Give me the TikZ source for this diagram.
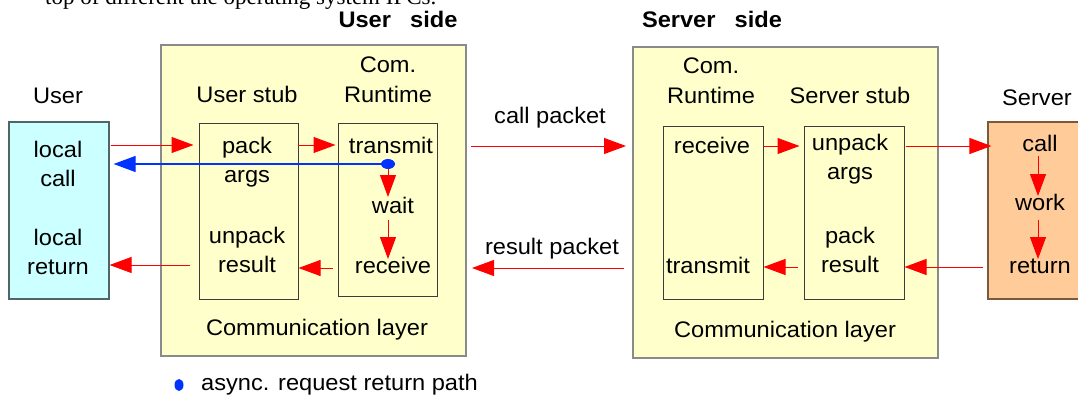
\documentclass[tikz,border=0pt]{standalone}
\usepackage{fontspec}
\setmainfont[FakeStretch=1.05]{Liberation Sans}
\newfontfamily\toptextfont{Liberation Serif}
\usetikzlibrary{arrows.meta,fit,shapes.geometric}
\definecolor{ylw}{HTML}{FFFFCC}
\definecolor{cyn}{HTML}{CCFFFF}
\definecolor{org}{HTML}{FFCC99}
\definecolor{boxgray}{HTML}{8A8A8A}
\definecolor{innergray}{HTML}{3C3C3C}
\definecolor{cynedge}{HTML}{4F6666}
\definecolor{orgedge}{HTML}{7A5A3C}
\definecolor{arrred}{HTML}{FF0000}
\definecolor{arrblue}{HTML}{0033FF}
\newcommand{\mytwo}[2]{\begin{tabular}[t]{@{}c@{}}#1\\#2\end{tabular}}
\begin{document}
\begin{tikzpicture}[x=1pt,y=-1pt,
  lbl/.style={anchor=base,inner sep=0pt,font=\fontsize{22.5}{29}\selectfont},
  ttl/.style={anchor=base,inner sep=0pt,font=\fontsize{22.5}{25}\selectfont\bfseries},
  layer/.style={draw=boxgray,line width=2pt,fill=ylw,inner sep=0pt},
  innerbox/.style={draw=innergray,line width=1pt,fill=ylw,inner sep=0pt},
  rar/.style={draw=arrred,line width=1pt,-{Triangle[length=22pt,width=16pt]},fill=arrred},
  bar/.style={draw=arrblue,line width=1.2pt,-{Triangle[length=22pt,width=16pt]},fill=arrblue},
  bdot/.style={ellipse,fill=arrblue,inner sep=0pt}]
\useasboundingbox (0,0) rectangle (1078,396);
\clip (0,0) rectangle (1078,396);
% cut-off text line at the very top
\node[anchor=base west,inner sep=0pt,font=\toptextfont\fontsize{23}{26}\selectfont] (toptext) at (45,5) {top of different the operating system IPCs.};
% big layer boxes
\node[layer,fit={(161,45) (466,356)}] (uside) {};
\node[layer,fit={(633,47) (938,358)}] (sside) {};
% user and server boxes
\node[draw=cynedge,line width=1.2pt,fill=cyn,inner sep=0pt,fit={(9,122) (109,299)}] (usr) {};
\node[draw=orgedge,line width=1.2pt,fill=org,inner sep=0pt,fit={(988,122) (1110,299)}] (srv) {};
% inner boxes
\node[innerbox,fit={(199,123) (298,299)}] (ustub) {};
\node[innerbox,fit={(338,123) (437,296)}] (urt) {};
\node[innerbox,fit={(663,126) (763,299)}] (srt) {};
\node[innerbox,fit={(804,126) (904,299)}] (sstub) {};
% titles
\node[ttl] (usidet) at (398,28) {User\hspace{0.85em}side};
\node[ttl] (ssidet) at (712,28) {Server\hspace{0.85em}side};
% headings
\node[lbl] (usrt) at (58,103) {User};
\node[lbl] (ustubt) at (247,102) {User stub};
\node[lbl] (urtt) at (388,73) {\mytwo{Com.}{Runtime}};
\node[lbl] (srtt) at (711,74) {\mytwo{Com.}{Runtime}};
\node[lbl] (sstubt) at (850,103) {Server stub};
\node[lbl] (srvt) at (1037,105) {Server};
% user box
\node[lbl] (lcall) at (58,157) {\mytwo{local}{call}};
\node[lbl] (lret) at (58,245) {\mytwo{local}{return}};
% user stub
\node[lbl] (packargs) at (247,153) {\mytwo{pack}{args}};
\node[lbl] (unpackres) at (247,243) {\mytwo{unpack}{result}};
% user runtime
\node[lbl] (utrans) at (391,153) {transmit};
\node[lbl] (uwait) at (393,213) {wait};
\node[lbl] (urecv) at (393,273) {receive};
% server runtime
\node[lbl] (srecv) at (712,153) {receive};
\node[lbl] (strans) at (708,273) {transmit};
% server stub
\node[lbl] (unpackargs) at (850,150) {\mytwo{unpack}{args}};
\node[lbl] (packres) at (850,243) {\mytwo{pack}{result}};
% server
\node[lbl] (scall) at (1040,151) {call};
\node[lbl] (swork) at (1040,210) {work};
\node[lbl] (sret) at (1040,273) {return};
% packet labels
\node[lbl] (cpack) at (550,123) {call packet};
\node[lbl] (rpack) at (552,254) {result packet};
% layer labels
\node[lbl] (ucomm) at (317,335) {Communication layer};
\node[lbl] (scomm) at (785,337) {Communication layer};
% legend
\node[bdot,minimum width=9pt,minimum height=12pt] (legdot) at (179,385) {};
\node[lbl,anchor=base west] (legtext) at (201,390) {async. request return path};
% rows
\coordinate (rowA) at (0,145);
\coordinate (rowB) at (0,146);
\coordinate (rowC) at (0,267);
\coordinate (rowD) at (0,268);
\coordinate (rowE) at (0,265);
\coordinate (rowF) at (0,164);
\coordinate (adot) at (388,164);
\coordinate (scol) at (1038,0);
% forward (call) path
\draw[rar] ([xshift=1pt]usr.east |- rowA) -- ([xshift=-5pt]ustub.west |- rowA);
\draw[rar] ([xshift=-1pt]ustub.east |- rowA) -- ([xshift=-2pt]urt.west |- rowA);
\draw[rar] ([xshift=4pt]uside.east |- rowB) -- ([xshift=-6pt]sside.west |- rowB);
\draw[rar] (srt.east |- rowB) -- ([xshift=-4pt]sstub.west |- rowB);
\draw[rar] ([xshift=1pt]sstub.east |- rowB) -- ([xshift=4pt]srv.west |- rowB);
% return path
\draw[rar] ([xshift=-4pt]srv.west |- rowC) -- (sstub.east |- rowC);
\draw[rar] ([xshift=-6pt]sstub.west |- rowC) -- (srt.east |- rowC);
\draw[rar] ([xshift=-8pt]sside.west |- rowD) -- ([xshift=5pt]uside.east |- rowD);
\draw[rar] ([xshift=-5pt]urt.west |- rowD) -- (ustub.east |- rowD);
\draw[rar] ([xshift=-9pt]ustub.west |- rowE) -- (usr.east |- rowE);
% vertical steps
\draw[rar] (adot) -- ([yshift=16pt]adot |- uwait.base);
\draw[rar] ([yshift=-7pt]adot |- uwait.base) -- ([yshift=14pt]adot |- urecv.base);
\draw[rar] ([yshift=-5pt]scol |- scall.base) -- ([yshift=14pt]scol |- swork.base);
\draw[rar] ([yshift=-10pt]scol |- swork.base) -- ([yshift=14pt]scol |- sret.base);
% async return path
\draw[bar] (adot) -- ([xshift=4pt]usr.east |- rowF);
\node[bdot,minimum width=14pt,minimum height=10pt] (tdot) at (adot) {};
\end{tikzpicture}
\end{document}
